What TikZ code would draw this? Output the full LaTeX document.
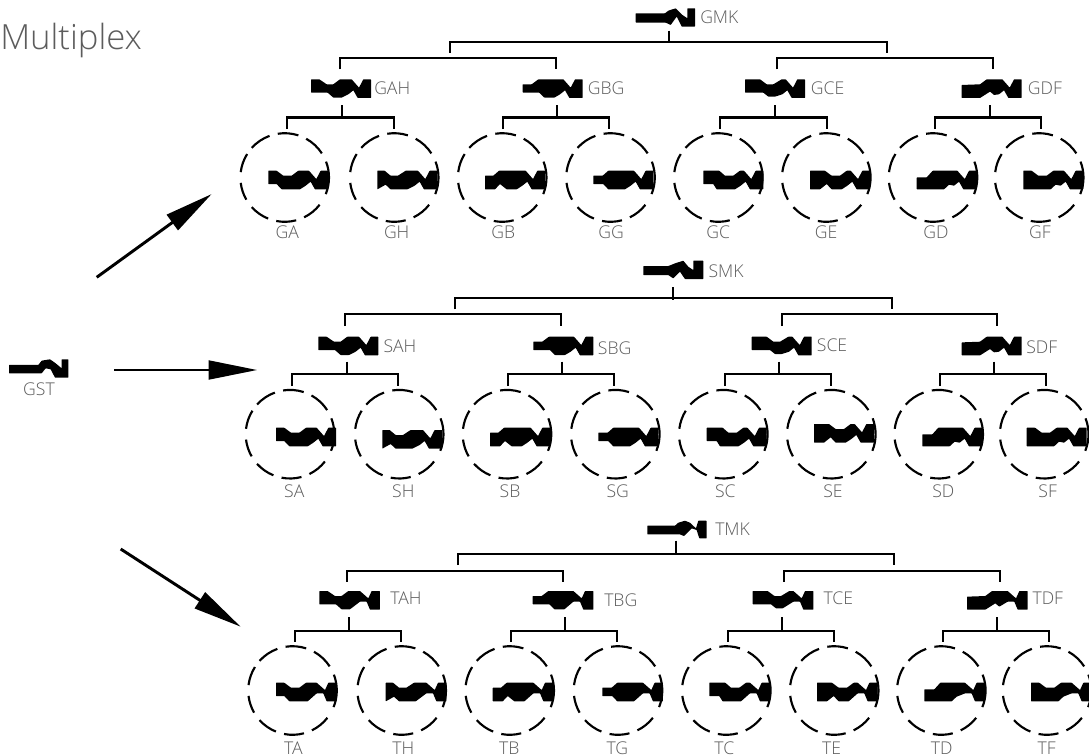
\documentclass[tikz,border=0pt]{standalone}
\usepackage{fontspec}
\setmainfont{Open Sans Light}
\usetikzlibrary{arrows.meta}
\definecolor{lbl}{HTML}{5C5C5C}
\tikzset{
  lnk/.style={line width=1.6pt,black},
  ring/.style={line width=1.6pt,black},
  bigarrow/.style={line width=2.2pt,black,-{Triangle[length=36.5pt,width=14pt]}},
  lab/.style={inner sep=0pt,text=lbl,font=\fontsize{13.2}{15}\selectfont},
  keyshape/.style={fill=black,rounded corners=.35pt}
}
\def\ktA{(0,0) -- (25,0) -- (45,15) -- (70,15) -- (90,0)}
\def\kbA{-- (95,56) -- (40,56) -- (25,40) -- (0,40)}
\def\ktH{(0,0) -- (22,0) -- (40,15) -- (62,15) -- (85,0)}
\def\kbH{-- (90,56) -- (40,56) -- (25,42) -- (0,56)}
\def\ktB{(0,15) -- (25,15) -- (42,0) -- (90,0)}
\def\kbB{-- (95,56) -- (65,56) -- (45,40) -- (30,56) -- (0,56)}
\def\ktG{(0,15) -- (28,15) -- (45,0) -- (90,0)}
\def\kbG{-- (95,56) -- (45,56) -- (30,40) -- (0,40)}
\def\ktC{(0,0) -- (48,0) -- (65,15) -- (90,15) -- (110,0)}
\def\kbC{-- (95,56) -- (40,56) -- (30,40) -- (0,40)}
\def\ktE{(0,0) -- (45,0) -- (65,15) -- (90,15) -- (110,0)}
\def\kbE{-- (95,56) -- (65,56) -- (50,40) -- (30,56) -- (0,56)}
\def\ktD{(0,20) -- (30,20) -- (48,0) -- (90,0)}
\def\kbD{-- (97,42) -- (82,56) -- (0,56)}
\def\ktF{(0,0) -- (25,0) -- (45,15) -- (70,15) -- (90,0)}
\def\kbF{-- (97,42) -- (82,56) -- (0,56)}
\def\ktAH{(0,0) -- (25,0) -- (47,15) -- (67,15) -- (87,0)}
\def\kbAH{-- (92,55) -- (67,55) -- (50,40) -- (0,40)}
\def\ktBG{(0,15) -- (27,15) -- (47,0) -- (90,0)}
\def\kbBG{-- (95,55) -- (65,55) -- (50,40) -- (0,40)}
\def\ktCE{(0,0) -- (45,0) -- (65,15) -- (85,15) -- (110,0)}
\def\kbCE{-- (90,52) -- (70,52) -- (55,40) -- (0,40)}
\def\ktDF{(0,17) -- (55,15) -- (75,0) -- (108,0)}
\def\kbDF{-- (97,47) -- (85,37) -- (55,56) -- (0,56)}
\def\ktGST{(0,17) -- (88,17) -- (98,4) -- (123,0) -- (140,12) -- (158,27) -- (158,0)}
\def\kbGST{-- (125,30) -- (110,27) -- (98,42) -- (0,42)}
\def\krGST{-- (178,0) -- (178,55) -- (138,55)}
\def\ktGMK{(0,15) -- (88,15) -- (98,7) -- (120,0) -- (140,20) -- (155,30) -- (155,0)}
\def\krGMK{-- (178,0) -- (178,55) -- (138,55) -- (123,25) -- (105,50)}
\def\kbGMK{-- (90,43) -- (0,43)}
\def\ktSMK{(0,16) -- (75,16) -- (95,8) -- (120,0) -- (135,18) -- (150,28) -- (150,0)}
\def\krSMK{-- (180,0) -- (180,55) -- (125,55) -- (110,33) -- (90,53)}
\def\kbSMK{-- (75,43) -- (0,43)}
\def\ktTMK{(0,15) -- (83,15) -- (93,6) -- (113,0) -- (128,6) -- (146,23) -- (153,0)}
\def\krTMK{-- (178,0) -- (178,53) -- (156,53) -- (148,28) -- (133,23) -- (110,46)}
\def\kbTMK{-- (98,41) -- (0,41)}
\def\krN{-- (122,0) -- (144,25) -- (157,0) -- (180,0) -- (180,56) -- (140,56) -- (127,33) -- (112,45)}
\def\krT{-- (122,0) -- (147,22) -- (157,0) -- (182,0) -- (182,56) -- (152,56) -- (142,32) -- (122,32)}
\newcommand\keyglyph[4]{%
  \edef\kp{\csname kt#3\endcsname\space\csname kr#4\endcsname\space\csname kb#3\endcsname}%
  \fill[keyshape,shift={(#1,#2)},x=.25pt,y=-.25pt] \kp -- cycle;}
\newcommand\dashring[3]{%
  \coordinate (#1) at (#2,#3);
  \foreach \a/\b in {-99/-72,-61/-33,-21/22,38/64,75/101,112/138,150/173,-173/-148,-138/-110}
    \draw[ring] ([shift={(\a:44.3)}]#1) arc[start angle=\a,end angle=\b,radius=44.3];}
\newcommand\keyleaf[9]{%
  \dashring{#1}{#2}{#3}
  \keyglyph{#4}{#5}{#6}{#7}
  \node[lab] (#1-l) at (#8,#9) {#1};}
\newcommand\keymid[7]{%
  \keyglyph{#2}{#3}{#4}{#5}
  \node[lab,anchor=west] (#1-l) at (#6,#7) {#1};}
\newcommand\forkdown[7]{%
  \coordinate (#1-s) at (#2,#3);
  \coordinate (#1-j) at (#2,#4);
  \coordinate (#1-a) at (#5,#7);
  \coordinate (#1-b) at (#6,#7);
  \draw[lnk] (#1-s) -- (#1-j);
  \draw[lnk] (#1-a) -- (#1-a|-#1-j) -- (#1-b|-#1-j) -- (#1-b);}
\newcommand\forkbare[5]{%
  \coordinate (#1-j) at (#2,#4);
  \coordinate (#1-a) at (#2,#5);
  \coordinate (#1-b) at (#3,#5);
  \draw[lnk] (#1-a) -- (#1-j) -- (#1-b|-#1-j) -- (#1-b);}
\begin{document}
\begin{tikzpicture}[x=.75pt,y=-.75pt]
\path[use as bounding box,fill=white] (0,0) rectangle (1089,754);
\node[inner sep=0pt,anchor=base west,text=lbl,font=\fontsize{26}{29}\selectfont] (title) at (0,49) {Multiplex};

\keyglyph{9}{359.3}{GST}{GST}
\node[lab] (GST) at (39,389) {GST};
\coordinate (a1s) at (96.7,277.3); \coordinate (a1e) at (211.7,194);
\coordinate (a2s) at (114.3,370);  \coordinate (a2e) at (257.3,370);
\coordinate (a3s) at (120.7,549);  \coordinate (a3e) at (240.7,626.7);
\draw[bigarrow] (a1s) -- (a1e);
\draw[bigarrow] (a2s) -- (a2e);
\draw[bigarrow] (a3s) -- (a3e);

% ===== G row =====
\keyglyph{635.7}{8.3}{GMK}{GMK}
\node[lab,anchor=west] (GMK-l) at (700,17) {GMK};
\forkdown{GMK}{669}{30.7}{42}{450}{887}{52.7}
\forkbare{GL}{340}{555.7}{58}{69.3}
\forkbare{GR}{777}{992.7}{58}{69.3}
\keymid{GAH}{311}{79.3}{AH}{N}{374}{88}
\keymid{GBG}{522.7}{79.3}{BG}{N}{587.7}{88}
\keymid{GCE}{745}{79.3}{CE}{N}{810.7}{88}
\keymid{GDF}{961.7}{79.3}{DF}{N}{1027.7}{88}
\forkdown{GAH}{342}{105}{117.5}{287.3}{394}{129}
\forkdown{GBG}{557.3}{105}{117.5}{502.7}{609.3}{129}
\forkdown{GCE}{775}{105}{117.5}{720.3}{826.7}{129}
\forkdown{GDF}{989.7}{105}{117.5}{935.3}{1041.3}{129}
\keyleaf{GA}{284.7}{177.5}{268.3}{170.7}{A}{N}{287.3}{232}
\keyleaf{GH}{394.2}{177.5}{377.3}{170.7}{H}{N}{396.7}{232}
\keyleaf{GB}{502.2}{177.5}{485}{170.7}{B}{N}{503.3}{232}
\keyleaf{GG}{610.5}{177.5}{593.3}{170.7}{G}{N}{611}{232}
\keyleaf{GC}{718.3}{177.5}{703.3}{170.7}{C}{N}{718.3}{232}
\keyleaf{GE}{826.3}{177.5}{810}{170.7}{E}{N}{826}{232}
\keyleaf{GD}{933}{177.5}{916.7}{170.7}{D}{N}{936}{232}
\keyleaf{GF}{1039.2}{177.5}{1023.3}{170.7}{F}{N}{1040}{232}

% ===== S row =====
\keyglyph{643.3}{260.7}{SMK}{SMK}
\node[lab,anchor=west] (SMK-l) at (708.3,271.7) {SMK};
\forkdown{SMK}{673.3}{287.3}{298.3}{455}{891.7}{309.3}
\draw[lnk] (SMK-j) -- ++(0,1.7);
\forkbare{SL}{345}{560.7}{314.3}{326}
\forkbare{SR}{781.7}{997}{314.3}{326}
\keymid{SAH}{318.3}{336.7}{AH}{N}{383.3}{346.5}
\keymid{SBG}{533.3}{336.7}{BG}{N}{597.7}{347.7}
\keymid{SCE}{751.7}{336.7}{CE}{N}{816.7}{345.7}
\keymid{SDF}{961.7}{336.7}{DF}{N}{1026}{347}
\forkdown{SAH}{346.7}{361.7}{374.3}{292.3}{398.3}{386}
\forkdown{SBG}{562}{361.7}{374.3}{507.7}{614}{386}
\forkdown{SCE}{779.3}{361.7}{374.3}{725}{831.3}{386}
\forkdown{SDF}{994.3}{361.7}{374.3}{940}{1046.3}{386}
\keyleaf{SA}{290}{434.2}{276}{427.7}{A}{N}{294.3}{491}
\keyleaf{SH}{399.2}{434.2}{382.3}{430}{H}{N}{403.3}{491}
\keyleaf{SB}{507}{434.2}{490}{427.7}{B}{N}{510}{491}
\keyleaf{SG}{615.3}{434.2}{598.3}{427.7}{G}{N}{617.7}{491}
\keyleaf{SC}{723.3}{434.2}{706.7}{427.7}{C}{N}{725.3}{491}
\keyleaf{SE}{831.3}{434.2}{814}{424}{E}{N}{833}{491}
\keyleaf{SD}{938.7}{434.2}{922.3}{427.7}{D}{N}{943.3}{491}
\keyleaf{SF}{1044.2}{434.2}{1026.7}{427.7}{F}{N}{1047.7}{491}

% ===== T row =====
\keyglyph{647.3}{520.7}{TMK}{TMK}
\node[lab,anchor=west] (TMK-l) at (715,529) {TMK};
\forkdown{TMK}{676}{540.7}{554}{457.7}{894.3}{565}
\forkbare{TL}{347.3}{562.7}{570.7}{581.7}
\forkbare{TR}{784.3}{1000}{570.7}{581.7}
\keymid{TAH}{319.3}{591}{AH}{T}{390}{598.3}
\keymid{TBG}{532.7}{591}{BG}{T}{604}{600}
\keymid{TCE}{752.7}{591}{CE}{T}{823.3}{598.7}
\keymid{TDF}{967}{591}{DF}{T}{1032.3}{598.3}
\forkdown{TAH}{349.3}{617.3}{630.7}{295}{401.3}{641.7}
\forkdown{TBG}{564.7}{617.3}{630.7}{510.7}{616.7}{641.7}
\forkdown{TCE}{782.3}{617.3}{630.7}{728}{834.3}{641.7}
\forkdown{TDF}{997}{617.3}{630.7}{942.7}{1048.7}{641.7}
\keyleaf{TA}{292.5}{690.5}{276}{682.7}{A}{T}{293.3}{748}
\keyleaf{TH}{401.7}{690.5}{385.7}{682.7}{H}{T}{403.3}{748}
\keyleaf{TB}{509.7}{690.5}{492.7}{682.7}{B}{T}{509.3}{748}
\keyleaf{TG}{618}{690.5}{602.3}{682.7}{G}{T}{617.3}{748}
\keyleaf{TC}{726.3}{690.5}{709.3}{682.7}{C}{T}{724.3}{748}
\keyleaf{TE}{834.2}{690.5}{817}{682.7}{E}{T}{831.7}{748}
\keyleaf{TD}{941.3}{690.5}{924.3}{682.7}{D}{T}{941.7}{748}
\keyleaf{TF}{1047}{690.5}{1031}{682.7}{F}{T}{1046.7}{748}
\end{tikzpicture}
\end{document}
